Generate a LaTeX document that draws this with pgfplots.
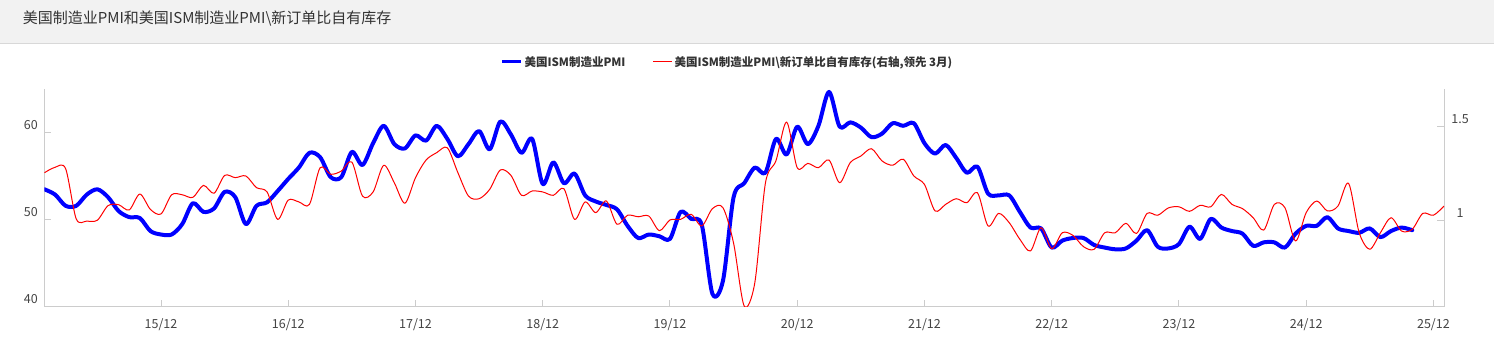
\documentclass[border=0pt]{standalone}
\usepackage{fontspec}
\setmainfont{Noto Sans CJK SC}
\usepackage{pgfplots}
\pgfplotsset{compat=1.18}
\usepackage{pgfplotstable}
\definecolor{axisgray}{RGB}{204,204,204}
\definecolor{txt}{RGB}{51,51,51}
\definecolor{ticktxt}{RGB}{68,68,68}
\definecolor{titlebg}{RGB}{242,242,242}
\definecolor{bordergray}{RGB}{216,216,216}
\definecolor{pmiblue}{RGB}{0,0,255}
\definecolor{ratiored}{RGB}{255,0,0}

% ISM manufacturing PMI, month index 0 = 2015-01
\pgfplotstableread{
m v
0 53.5
1 52.9
2 51.6
3 51.6
4 52.9
5 53.5
6 52.6
7 51.0
8 50.3
9 50.2
10 48.7
11 48.3
12 48.3
13 49.5
14 51.9
15 50.9
16 51.3
17 53.2
18 52.6
19 49.5
20 51.6
21 52.0
22 53.3
23 54.7
24 56.0
25 57.7
26 57.2
27 54.9
28 54.9
29 57.8
30 56.3
31 58.8
32 60.8
33 58.7
34 58.2
35 59.7
36 59.1
37 60.8
38 59.3
39 57.3
40 58.7
41 60.2
42 58.1
43 61.3
44 59.8
45 57.7
46 59.3
47 54.1
48 56.6
49 54.2
50 55.3
51 52.8
52 52.1
53 51.7
54 51.2
55 49.3
56 47.9
57 48.3
58 48.1
59 47.8
60 50.9
61 50.1
62 49.4
63 41.5
64 43.0
65 52.6
66 54.2
67 56.0
68 55.4
69 59.3
70 57.5
71 60.7
72 58.7
73 60.8
74 64.7
75 60.7
76 61.2
77 60.6
78 59.5
79 59.9
80 61.1
81 60.8
82 61.1
83 58.8
84 57.6
85 58.6
86 57.1
87 55.4
88 56.1
89 53.0
90 52.8
91 52.8
92 50.9
93 49.1
94 49.0
95 46.8
96 47.6
97 47.9
98 47.9
99 47.1
100 46.8
101 46.6
102 46.7
103 47.6
104 48.8
105 46.9
106 46.7
107 47.2
108 49.2
109 47.8
110 50.1
111 49.1
112 48.7
113 48.4
114 47.0
115 47.4
116 47.4
117 46.8
118 48.4
119 49.3
120 49.3
121 50.3
122 49.0
123 48.7
124 48.5
125 49.0
126 48.0
127 48.7
128 49.1
129 48.8
}\pmi

% New orders / inventories ratio, led 3 months
\pgfplotstableread{
m v
0 1.255
1 1.284
2 1.277
3 1.010
4 0.998
5 1.003
6 1.080
7 1.085
8 1.057
9 1.142
10 1.060
11 1.036
12 1.138
13 1.138
14 1.124
15 1.188
16 1.146
17 1.241
18 1.229
19 1.238
20 1.176
21 1.153
22 1.007
23 1.110
24 1.100
25 1.087
26 1.282
27 1.247
28 1.264
29 1.312
30 1.131
31 1.153
32 1.295
33 1.202
34 1.093
35 1.229
36 1.323
37 1.362
38 1.388
39 1.255
40 1.131
41 1.117
42 1.167
43 1.270
44 1.241
45 1.135
46 1.158
47 1.153
48 1.135
49 1.170
50 1.007
51 1.100
52 1.043
53 1.105
54 0.981
55 1.029
56 1.021
57 1.025
58 0.947
59 1.004
60 1.007
61 1.034
62 0.972
63 1.064
64 1.069
65 0.880
66 0.546
67 0.670
68 1.200
69 1.320
70 1.525
71 1.282
72 1.305
73 1.282
74 1.323
75 1.202
76 1.309
77 1.344
78 1.383
79 1.318
80 1.295
81 1.327
82 1.238
83 1.193
84 1.052
85 1.087
86 1.117
87 1.096
88 1.149
89 0.972
90 1.039
91 0.989
92 0.901
93 0.839
94 0.963
95 0.851
96 0.936
97 0.922
98 0.862
99 0.848
100 0.936
101 0.936
102 0.986
103 0.932
104 1.039
105 1.029
106 1.068
107 1.074
108 1.050
109 1.082
110 1.074
111 1.140
112 1.087
113 1.064
114 1.016
115 0.950
116 1.087
117 1.069
118 0.892
119 1.043
120 1.105
121 1.052
122 1.078
123 1.199
124 0.936
125 0.848
126 0.936
127 1.016
128 0.945
129 0.954
130 1.039
131 1.029
132 1.078
}\ratio

\begin{document}
\begin{tikzpicture}[x=1pt,y=1pt]
\useasboundingbox (0,0) rectangle (1494,343);
\fill[white] (0,0) rectangle (1494,343);
\fill[titlebg] (0,299.7) rectangle (1494,343);
\draw[bordergray, line width=1pt] (0,299.7) -- (1494,299.7);
\node[anchor=west, text=txt, font=\fontsize{15}{18}\selectfont, inner sep=0pt] at (22.7,324.7) {美国制造业PMI和美国ISM制造业PMI\textbackslash 新订单比自有库存};

\pgfplotsset{
  common/.style={
    at={(44.4pt,36.3pt)}, anchor=south west,
    scale only axis, width=1399.6pt, height=217.4pt,
    xmin=0, xmax=132,
    axis line style={draw=axisgray, line width=1pt},
    tick style={draw=axisgray, line width=1pt},
    tick align=inside, major tick length=7pt,
    ticklabel style={font=\fontsize{12.5}{15}\selectfont, text=ticktxt},
  }
}

\begin{axis}[common,
  axis x line*=bottom, axis y line*=left,
  ymin=40, ymax=65,
  ytick={40,50,60}, yticklabels={40,50,60},
  yticklabel style={anchor=east, inner sep=0pt, xshift=-6.4pt, yshift=7.5pt},
  xtick={11,23,35,47,59,71,83,95,107,119,131},
  xticklabels={15/12,16/12,17/12,18/12,19/12,20/12,21/12,22/12,23/12,24/12,25/12},
  xticklabel style={anchor=center, inner sep=0pt, yshift=-18.3pt},
]
\addplot[pmiblue, line width=4pt, smooth, line join=round, line cap=round] table[x=m, y=v] {\pmi};
\end{axis}

\begin{axis}[common,
  axis x line=none, axis y line*=right,
  ymin=0.5426, ymax=1.699,
  ytick={1,1.5}, yticklabels={1,1.5},
  yticklabel style={anchor=center, inner sep=0pt, xshift=16pt, yshift=7.5pt},
  legend columns=2,
  legend style={at={(0.488,1.1256)}, anchor=center, draw=none, fill=none,
    font=\fontsize{11.5}{14}\bfseries, text=txt,
    /tikz/every even column/.append style={column sep=25pt}},
  legend image code/.code={\draw[#1, line cap=butt] (0pt,0pt) -- (19pt,0pt);},
]
\addlegendimage{pmiblue, line width=3pt}
\addlegendentry{美国ISM制造业PMI}
\addplot[ratiored, line width=1pt, smooth, line join=round] table[x=m, y=v] {\ratio};
\addlegendentry{美国ISM制造业PMI\textbackslash 新订单比自有库存(右轴,领先 3月)}
\end{axis}
\end{tikzpicture}
\end{document}
